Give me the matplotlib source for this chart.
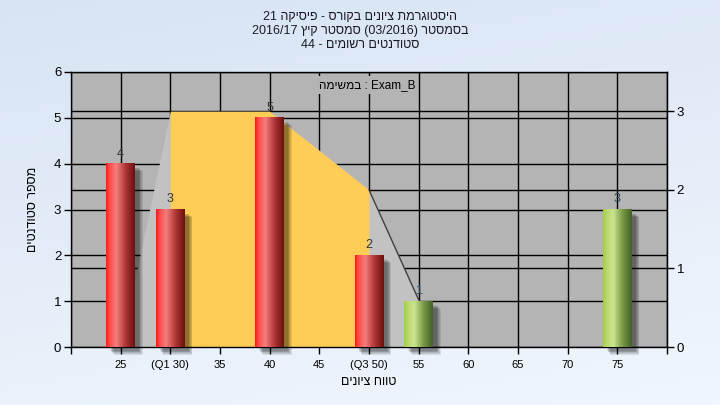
import numpy as np
import matplotlib
matplotlib.use('Agg')
import matplotlib.pyplot as plt
from matplotlib.patches import Rectangle
from matplotlib.transforms import offset_copy

plt.rcParams['font.family'] = ['Liberation Sans', 'DejaVu Sans']

# data
bins = [25, 30, 40, 50, 55, 75]
counts = [4, 3, 5, 2, 1, 3]
bar_kind = ['red', 'red', 'red', 'red', 'green', 'green']
tick_values = [20, 25, 30, 35, 40, 45, 50, 55, 60, 65, 70, 75, 80]
tick_labels = ['', '25', '(Q1 30)', '35', '40', '45', '(Q3 50)', '55', '60', '65', '70', '75', '']
curve_x = [25, 30, 40, 50, 55]
curve_y = [0, 3.0, 3.0, 2.0, 0.6]      # right axis units
q1, q3 = 30, 50
left_max, right_max = 6, 3.5

title_lines = ['היסטוגרמת ציונים בקורס - פיסיקה 21',
               'בסמסטר (03/2016) סמסטר קיץ 2016/17',
               'סטודנטים רשומים - 44']
xlabel = 'טווח ציונים'
ylabel = 'מספר סטודנטים'
task_word = 'במשימה'
task_name = 'Exam_B'


def rtl(s):
    # matplotlib has no bidi support, so put the words in visual order
    words = []
    for w in s.split(' '):
        if any('\u0590' <= c <= '\u05ff' for c in w):
            w = w[::-1]
        words.append(w)
    return ' '.join(words[::-1])


def to_left(v):
    return np.asarray(v, dtype=float) * left_max / right_max


def to_right(v):
    return np.asarray(v, dtype=float) * right_max / left_max


fig = plt.figure(figsize=(7.2, 4.05), dpi=100)

# light blue background gradient
bg = fig.add_axes([0, 0, 1, 1], zorder=-10)
yy, xx = np.mgrid[0:1:100j, 0:1:100j]
t = np.clip(0.75 * yy + 0.25 * xx, 0, 1)
c0 = np.array([216, 228, 244]) / 255
c1 = np.array([240, 246, 253]) / 255
bg.imshow(c0 + (c1 - c0) * t[..., None], aspect='auto', extent=(0, 1, 0, 1))
bg.axis('off')

ax = fig.add_axes([71 / 720, 58 / 405, 596 / 720, 275 / 405])
ax.set_facecolor('#b4b4b4')
ax.set_xlim(20, 80)
ax.set_ylim(0, left_max)

# grid lines for both y scales
for v in range(0, left_max + 1):
    ax.axhline(v, color='black', lw=1, zorder=0.5)
for v in [1, 2, 3]:
    ax.axhline(to_left(v), color='black', lw=1, zorder=0.5)
for v in tick_values:
    ax.axvline(v, color='black', lw=1, zorder=0.5)

# distribution area, yellow between the quartiles
cx = np.array(curve_x)
cy = to_left(curve_y)
ax.fill_between(cx, cy, color='#c2c2c2', lw=0, zorder=1)
ax.fill_between(cx, cy, where=(cx >= q1) & (cx <= q3), color='#ffcc55', lw=0, zorder=1.1)
ax.plot(cx[3:], cy[3:], color='#404040', lw=1, zorder=1.2)

# cylinder-like bars
profiles = {
    'red': [(0.0, (255, 25, 25)), (0.1, (255, 70, 70)), (0.35, (245, 125, 125)),
            (0.7, (170, 50, 50)), (1.0, (110, 15, 15))],
    'green': [(0.0, (160, 205, 75)), (0.1, (180, 215, 100)), (0.35, (205, 228, 145)),
              (0.7, (115, 150, 65)), (1.0, (70, 95, 40))],
}
width = 2.9
for x, c, kind in zip(bins, counts, bar_kind):
    for k in range(6):
        tr = offset_copy(ax.transData, fig=fig, x=4 + k * 0.7, y=-(4 + k * 0.7), units='dots')
        ax.add_patch(Rectangle((x - width / 2, 0), width, c, transform=tr,
                               facecolor='black', edgecolor='none', alpha=0.09,
                               zorder=2, clip_on=False))
    pos = np.linspace(0, 1, 64)
    stops = profiles[kind]
    sp = [s[0] for s in stops]
    grad = np.stack([np.interp(pos, sp, [s[1][i] for s in stops]) for i in range(3)], axis=-1) / 255
    ax.imshow(grad[np.newaxis, :, :], extent=(x - width / 2, x + width / 2, 0, c),
              aspect='auto', interpolation='bilinear', zorder=3)
    ax.annotate(str(c), (x, c), xytext=(0, 3), textcoords='offset points',
                ha='center', va='bottom', fontsize=9,
                color='#333333' if kind == 'red' else '#2a4a5a', zorder=4)

ax.set_xlim(20, 80)
ax.set_ylim(0, left_max)
ax.set_aspect('auto')

ax.set_xticks(tick_values)
ax.set_xticklabels(tick_labels, fontsize=8)
ax.set_yticks(range(0, left_max + 1))
ax.tick_params(axis='y', labelsize=9.5, length=5, pad=2, width=1)
ax.tick_params(axis='x', length=5, pad=4, width=1)
for s in ax.spines.values():
    s.set_color('black')
    s.set_linewidth(1)

sec = ax.secondary_yaxis('right', functions=(to_right, to_left))
sec.set_yticks([0, 1, 2, 3])
sec.tick_params(labelsize=9.5, length=5, pad=2, width=1)

ax.set_xlabel(rtl(xlabel), fontsize=9, labelpad=5)
ax.set_ylabel(rtl(ylabel), fontsize=9, labelpad=11)

ax.text(0.497, 0.953, rtl(task_word) + ' : ' + task_name, transform=ax.transAxes,
        ha='center', va='center', fontsize=8.5, zorder=5,
        bbox=dict(facecolor='#b4b4b4', edgecolor='none', pad=2))

for i, line in enumerate(title_lines):
    fig.text(0.5, 0.958 - i * 0.034, rtl(line), ha='center', va='center',
             fontsize=9, color='#1a1a2a')

fig.savefig('out.png', dpi=100)
